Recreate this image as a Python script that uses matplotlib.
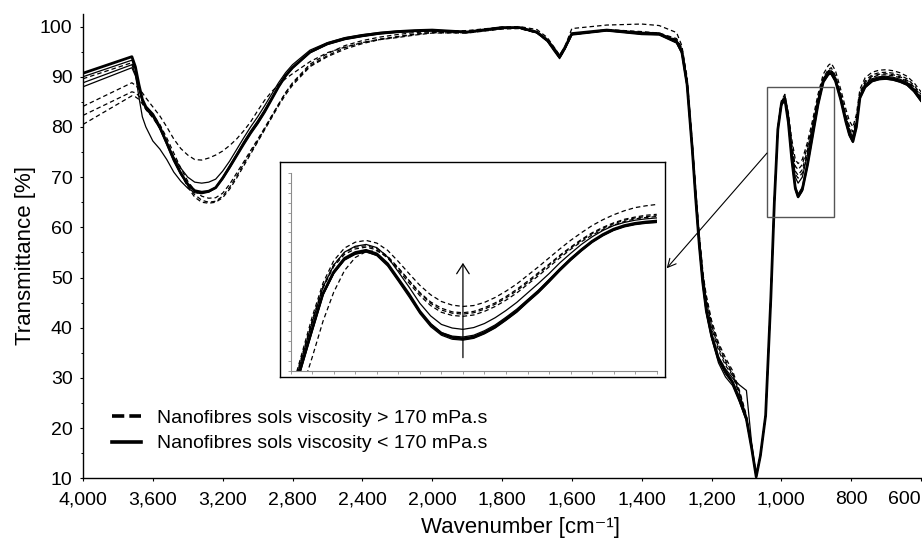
"""
FTIR transmittance spectra of nanofibre sols (two viscosity groups),
with a magnified inset of the 1030-860 cm-1 band.
"""
import numpy as np
import matplotlib
matplotlib.use("Agg")
import matplotlib.pyplot as plt
from matplotlib.lines import Line2D
from matplotlib.patches import Rectangle
from matplotlib.ticker import FixedLocator, FuncFormatter, NullLocator

plt.rcParams['font.family'] = ['Liberation Sans', 'DejaVu Sans']

# wavenumber grid of the main chart [cm-1]
wn = [4000, 3720, 3700, 3680, 3660, 3640, 3600, 3560, 3520, 3480,
      3440, 3400, 3360, 3320, 3280, 3240, 3200, 3160, 3120, 3080,
      3040, 3000, 2960, 2920, 2880, 2840, 2800, 2700, 2600, 2500,
      2400, 2300, 2200, 2100, 2000, 1900, 1800, 1750, 1700, 1670,
      1650, 1635, 1620, 1600, 1500, 1400, 1350, 1300, 1285, 1270,
      1255, 1245, 1235, 1225, 1215, 1200, 1180, 1160, 1140, 1120,
      1100, 1085, 1072, 1060, 1045, 1030, 1020, 1010, 1000, 990,
      980, 970, 960, 952, 940, 925, 910, 895, 880, 865,
      857, 845, 830, 815, 805, 795, 785, 775, 760, 740,
      720, 700, 680, 660, 640, 620, 600]

# viscosity > 170 mPa.s (dashed)
hi_1 = [89.6, 92.8, 91.0, 88.0, 85.5, 84.0, 82.5, 80.5, 77.8, 74.8,
        71.8, 69.2, 67.3, 66.2, 65.8, 65.9, 66.8, 68.6, 70.8, 73.0,
        75.3, 77.5, 79.8, 82.2, 84.5, 86.8, 88.6, 92.2, 94.2, 95.8,
        96.8, 97.5, 98.0, 98.5, 98.8, 98.8, 99.6, 99.7, 98.8, 97.2,
        95.3, 93.8, 95.6, 98.5, 99.4, 99.0, 98.7, 97.6, 95.8, 89.5,
        76.5, 67.0, 58.0, 51.0, 46.5, 41.5, 37.0, 34.0, 31.5, 27.5,
        22.5, 16.5, 10.5, 14.5, 22.5, 46.0, 65.5, 79.8, 85.0, 86.3,
        83.0, 77.5, 73.5, 72.7, 73.5, 77.0, 81.5, 86.5, 90.5, 92.3,
        92.7, 91.2, 87.5, 83.5, 81.2, 80.0, 82.5, 87.5, 89.8, 90.9,
        91.3, 91.4, 91.2, 90.8, 90.1, 88.8, 87.0]
hi_2 = [82.3, 87.0, 86.8, 86.2, 85.2, 83.8, 82.0, 80.0, 77.2, 74.0,
        71.0, 68.3, 66.5, 65.4, 65.0, 65.2, 66.2, 68.0, 70.2, 72.6,
        74.9, 77.2, 79.6, 82.0, 84.5, 86.8, 88.8, 92.5, 94.6, 96.2,
        97.2, 97.9, 98.4, 98.8, 99.0, 99.2, 99.9, 100.0, 99.4, 97.8,
        95.8, 94.3, 96.0, 99.6, 100.3, 100.5, 100.2, 98.8, 96.2, 90.0,
        77.0, 67.5, 58.5, 51.5, 45.0, 40.0, 35.5, 32.5, 30.5, 26.8,
        22.2, 16.5, 10.5, 14.5, 22.5, 46.0, 65.5, 79.8, 85.2, 86.5,
        82.6, 76.5, 72.2, 71.5, 72.5, 76.2, 80.8, 85.8, 89.8, 91.5,
        91.8, 90.2, 86.6, 82.5, 80.2, 79.0, 81.6, 86.8, 89.2, 90.4,
        90.8, 90.9, 90.7, 90.3, 89.6, 88.3, 86.5]
hi_3 = [84.1, 88.8, 88.3, 87.6, 86.8, 85.8, 84.0, 82.2, 80.0, 77.6,
        75.7, 74.4, 73.5, 73.4, 73.8, 74.4, 75.2, 76.3, 77.6, 79.2,
        81.0, 83.2, 85.3, 87.0, 88.4, 89.6, 90.6, 93.0, 94.8, 95.9,
        96.8, 97.4, 97.8, 98.3, 98.7, 98.8, 99.6, 99.7, 98.8, 97.2,
        95.2, 93.8, 95.6, 98.5, 99.3, 98.8, 98.6, 97.4, 95.5, 89.2,
        76.3, 66.8, 57.8, 50.8, 46.0, 41.0, 36.5, 33.5, 31.0, 27.0,
        22.0, 16.5, 10.5, 14.5, 22.5, 46.0, 65.2, 79.6, 84.8, 86.0,
        82.2, 76.0, 71.2, 70.4, 71.5, 75.5, 80.3, 85.5, 89.6, 91.2,
        91.5, 89.9, 86.3, 82.0, 79.6, 78.4, 81.2, 86.5, 88.9, 90.1,
        90.5, 90.6, 90.4, 90.0, 89.3, 88.0, 86.2]
hi_4 = [80.5, 86.2, 86.0, 85.5, 84.6, 83.5, 81.8, 79.8, 77.0, 73.8,
        70.8, 68.0, 66.0, 65.0, 64.8, 65.0, 65.9, 67.6, 69.8, 72.2,
        74.6, 77.0, 79.4, 81.8, 84.2, 86.4, 88.3, 92.0, 94.0, 95.5,
        96.6, 97.4, 97.9, 98.4, 98.8, 98.7, 99.5, 99.6, 98.7, 97.1,
        95.2, 93.7, 95.5, 98.4, 99.2, 98.7, 98.5, 97.3, 95.5, 89.0,
        76.2, 66.8, 57.8, 50.8, 45.5, 40.5, 36.0, 33.0, 30.8, 27.2,
        22.3, 16.5, 10.5, 14.5, 22.5, 46.0, 65.0, 79.5, 84.6, 85.8,
        81.8, 75.2, 70.6, 69.8, 70.8, 74.8, 79.8, 85.2, 89.4, 91.0,
        91.3, 89.7, 86.0, 81.8, 79.3, 78.1, 80.9, 86.3, 88.7, 89.9,
        90.3, 90.4, 90.2, 89.8, 89.1, 87.8, 86.0]

# viscosity < 170 mPa.s (solid); lo_1 is the heavy line
lo_1 = [90.7, 94.0, 92.0, 88.5, 85.5, 84.0, 82.5, 80.0, 76.8, 73.5,
        70.8, 68.6, 67.3, 67.0, 67.2, 67.9, 69.8, 72.0, 74.3, 76.6,
        78.8, 80.8, 83.0, 85.5, 88.0, 90.2, 91.8, 94.9, 96.6, 97.6,
        98.2, 98.7, 99.0, 99.2, 99.3, 98.9, 99.8, 99.8, 98.9, 97.3,
        95.5, 94.0, 95.8, 98.6, 99.3, 98.7, 98.6, 97.0, 95.0, 88.5,
        75.5, 65.5, 56.5, 49.0, 43.5, 38.5, 33.8, 31.3, 29.2, 25.8,
        21.8, 16.0, 10.3, 14.5, 22.5, 46.0, 65.0, 79.5, 84.5, 85.6,
        81.0, 73.5, 67.8, 66.1, 67.5, 72.5, 78.5, 84.5, 89.0, 90.6,
        90.7, 89.2, 85.5, 81.0, 78.5, 77.1, 80.0, 85.8, 88.0, 89.2,
        89.6, 89.7, 89.5, 89.1, 88.5, 87.2, 85.3]
lo_2 = [90.0, 93.3, 91.5, 88.0, 85.2, 83.8, 82.2, 79.8, 76.8, 74.0,
        71.8, 70.0, 69.0, 68.8, 69.0, 69.6, 71.2, 73.2, 75.5, 77.8,
        80.0, 82.0, 84.2, 86.5, 88.8, 90.8, 92.4, 95.3, 96.8, 97.8,
        98.4, 98.8, 99.1, 99.2, 99.3, 99.0, 99.8, 99.8, 98.9, 97.2,
        95.4, 94.2, 95.8, 98.5, 99.2, 98.8, 98.5, 97.2, 95.3, 89.0,
        76.0, 66.0, 57.0, 49.5, 44.0, 39.0, 34.2, 31.8, 30.0, 28.6,
        27.5, 17.0, 10.5, 14.5, 22.5, 46.0, 65.0, 79.5, 84.8, 86.0,
        82.0, 75.0, 70.0, 68.8, 70.0, 74.5, 80.0, 85.5, 89.5, 91.0,
        91.2, 89.8, 86.0, 81.8, 79.3, 78.0, 80.8, 86.2, 88.5, 89.6,
        90.0, 90.1, 89.9, 89.5, 88.9, 87.6, 85.8]
lo_3 = [88.8, 92.4, 90.5, 86.0, 82.0, 80.0, 77.2, 75.6, 73.5, 71.0,
        69.2, 67.8, 66.9, 66.7, 67.0, 67.8, 69.6, 71.8, 74.2, 76.5,
        78.7, 80.6, 82.9, 85.4, 87.9, 90.0, 91.7, 94.8, 96.5, 97.5,
        98.1, 98.6, 98.9, 99.1, 99.2, 98.8, 99.7, 99.7, 98.8, 97.2,
        95.3, 93.8, 95.6, 98.4, 99.2, 98.5, 98.4, 96.8, 94.8, 88.2,
        75.2, 65.0, 56.0, 48.5, 43.0, 38.0, 33.0, 30.2, 28.5, 25.2,
        21.5, 16.0, 10.3, 14.5, 22.5, 46.0, 65.0, 79.3, 84.2, 85.4,
        81.0, 73.8, 68.2, 66.6, 68.0, 73.0, 79.0, 84.8, 89.2, 90.8,
        91.0, 89.5, 85.8, 81.4, 78.9, 77.6, 80.5, 86.0, 88.2, 89.4,
        89.8, 89.9, 89.7, 89.3, 88.7, 87.4, 85.6]
lo_4 = [88.0, 91.8, 90.2, 87.5, 85.0, 83.5, 82.0, 79.6, 76.5, 73.2,
        70.5, 68.4, 67.2, 66.9, 67.2, 68.0, 70.0, 72.3, 74.6, 77.0,
        79.2, 81.2, 83.4, 85.8, 88.2, 90.3, 91.9, 94.8, 96.4, 97.4,
        98.0, 98.5, 98.8, 99.0, 99.1, 98.8, 99.6, 99.7, 98.7, 97.0,
        95.0, 93.6, 95.4, 98.3, 99.1, 98.4, 98.3, 96.7, 94.6, 88.0,
        75.0, 65.2, 56.2, 48.8, 43.2, 38.2, 33.5, 30.8, 29.0, 25.5,
        21.6, 15.8, 10.2, 14.5, 22.5, 46.0, 65.0, 79.5, 84.3, 85.5,
        80.8, 73.2, 67.5, 65.9, 67.2, 72.2, 78.2, 84.2, 88.8, 90.4,
        90.5, 89.0, 85.3, 80.8, 78.2, 76.9, 79.8, 85.6, 87.8, 89.0,
        89.4, 89.5, 89.3, 88.9, 88.3, 87.0, 85.1]

# inset (magnified band)
wn_in = [1030, 1025, 1020, 1015, 1010, 1005, 1000, 995, 990, 985,
         980, 975, 970, 965, 960, 955, 950, 945, 940, 935,
         930, 925, 920, 915, 910, 905, 900, 895, 890, 885,
         880, 875, 870, 865, 860]
hi_in_1 = [54.0, 62.5, 71.0, 78.5, 83.5, 86.3, 87.6, 88.0, 87.4, 85.8,
           83.3, 80.6, 78.0, 75.9, 74.4, 73.6, 73.3, 73.5, 74.2, 75.3,
           76.7, 78.3, 80.2, 82.1, 84.1, 86.1, 88.0, 89.7, 91.3, 92.6,
           93.7, 94.6, 95.3, 95.7, 96.0]
hi_in_2 = [53.5, 62.0, 70.2, 77.8, 82.6, 85.3, 86.5, 86.8, 86.2, 84.5,
           81.9, 79.1, 76.4, 74.3, 72.9, 72.1, 71.9, 72.2, 73.0, 74.1,
           75.5, 77.1, 78.9, 80.8, 82.7, 84.7, 86.5, 88.2, 89.7, 90.9,
           91.9, 92.7, 93.2, 93.6, 93.8]
hi_in_3 = [53.2, 61.6, 69.8, 77.4, 82.2, 84.9, 86.1, 86.5, 85.9, 84.1,
           81.4, 78.5, 75.7, 73.5, 72.0, 71.3, 71.1, 71.4, 72.2, 73.3,
           74.7, 76.3, 78.2, 80.1, 82.1, 84.1, 86.0, 87.7, 89.2, 90.4,
           91.4, 92.2, 92.8, 93.1, 93.3]
hi_in_4 = [47.0, 54.5, 62.0, 70.0, 76.5, 81.3, 84.2, 85.5, 85.7, 84.3,
           81.8, 79.0, 76.2, 74.0, 72.5, 71.8, 71.6, 71.9, 72.7, 73.8,
           75.2, 76.8, 78.6, 80.5, 82.5, 84.5, 86.3, 88.0, 89.5, 90.7,
           91.7, 92.5, 93.0, 93.3, 93.5]
lo_in_1 = [52.0, 60.2, 68.3, 76.2, 81.0, 84.0, 85.3, 85.8, 85.0, 82.8,
           79.4, 76.0, 72.2, 69.3, 67.3, 66.4, 66.1, 66.5, 67.5, 68.8,
           70.5, 72.3, 74.5, 76.6, 79.0, 81.5, 83.8, 85.9, 87.8, 89.3,
           90.5, 91.3, 91.8, 92.1, 92.3]
lo_in_2 = [53.0, 61.5, 69.8, 77.6, 82.5, 85.4, 86.7, 87.1, 86.4, 84.3,
           81.0, 77.6, 74.0, 71.2, 69.3, 68.5, 68.2, 68.6, 69.5, 70.8,
           72.4, 74.2, 76.3, 78.4, 80.6, 83.0, 85.1, 87.1, 88.8, 90.2,
           91.3, 92.0, 92.5, 92.8, 93.0]
lo_in_3 = [51.5, 59.6, 67.8, 75.8, 80.6, 83.6, 84.9, 85.4, 84.7, 82.6,
           79.3, 75.9, 72.2, 69.4, 67.5, 66.7, 66.5, 66.9, 67.9, 69.2,
           70.9, 72.7, 74.8, 76.9, 79.3, 81.7, 84.0, 86.0, 87.8, 89.2,
           90.3, 91.1, 91.6, 91.9, 92.0]
lo_in_4 = [51.8, 59.9, 68.0, 75.9, 80.7, 83.7, 85.0, 85.5, 84.6, 82.3,
           78.9, 75.4, 71.7, 68.8, 66.9, 66.0, 65.8, 66.2, 67.2, 68.5,
           70.2, 72.0, 74.2, 76.3, 78.7, 81.2, 83.5, 85.6, 87.5, 89.0,
           90.2, 91.0, 91.5, 91.8, 92.0]

x_ticks = [4000, 3600, 3200, 2800, 2400, 2000, 1800, 1600, 1400, 1200, 1000, 800, 600]
labels = ['Nanofibres sols viscosity > 170 mPa.s', 'Nanofibres sols viscosity < 170 mPa.s']


# half scale below 2000 cm-1: every tick interval gets the same width
def fwd(w):
    w = np.asarray(w, dtype=float)
    return np.where(w <= 2000, (w - 600) / 200.0, 7 + (w - 2000) / 400.0)


def inv(p):
    p = np.asarray(p, dtype=float)
    return np.where(p <= 7, 600 + 200.0 * p, 2000 + 400.0 * (p - 7))


W, H = 922, 544
DASH = (0, (3.6, 2.4))

fig = plt.figure(figsize=(W / 100, H / 100), dpi=100)
ax = fig.add_axes([83 / W, 1 - 478.3 / H, 838 / W, 464.3 / H])

for ys in [hi_1, hi_2, hi_3, hi_4]:
    ax.plot(wn, ys, color='black', lw=0.9, ls=DASH)
for ys in [lo_2, lo_3, lo_4]:
    ax.plot(wn, ys, color='black', lw=0.9)
ax.plot(wn, lo_1, color='black', lw=2.0)

ax.set_xscale('function', functions=(fwd, inv))
ax.set_xlim(4000, 600)
ax.set_ylim(10, 102.5)
ax.xaxis.set_major_locator(FixedLocator(x_ticks))
ax.xaxis.set_minor_locator(NullLocator())
ax.xaxis.set_major_formatter(FuncFormatter(lambda v, p: f'{v:,.0f}'))
ax.set_yticks(np.arange(10, 101, 10))
ax.set_yticks(np.arange(15, 100, 10), minor=True)

for s in ['top', 'right']:
    ax.spines[s].set_visible(False)
for s in ['left', 'bottom']:
    ax.spines[s].set_linewidth(1.0)
ax.tick_params(axis='both', which='major', direction='out', length=2.5, width=0.8, labelsize=14)
ax.tick_params(axis='y', which='minor', direction='out', length=1.8, width=0.7)
ax.tick_params(axis='x', pad=7)
ax.tick_params(axis='y', pad=5)

ax.set_xlabel('Wavenumber [cm\u207b\u00b9]', fontsize=16)
ax.set_ylabel('Transmittance [%]', fontsize=16)
ax.xaxis.set_label_coords(0.522, -0.083)
ax.yaxis.set_label_coords(-0.056, 0.479)

# box around the magnified band
ax.add_patch(Rectangle((849, 62), 1041 - 849, 26, fill=False, edgecolor='#555555', lw=1.0, zorder=5))
ax.annotate('', xy=(666.7 / W, 1 - 268.3 / H), xycoords='figure fraction',
            xytext=(1041, 74.8), textcoords='data',
            arrowprops=dict(arrowstyle='->,head_length=0.6,head_width=0.3', color='black',
                            lw=0.8, shrinkA=0, shrinkB=0), zorder=6)

leg_handles = [Line2D([], [], color='black', lw=2.6, ls=(0, (3.4, 1.4))),
               Line2D([], [], color='black', lw=2.6)]
ax.legend(leg_handles, labels, loc='upper left', bbox_to_anchor=(0.0346, 0.1484),
          frameon=False, fontsize=14, handlelength=1.5, handletextpad=0.8,
          labelspacing=0.4, borderpad=0, borderaxespad=0)

# inset: outer frame + inner plot
frame = fig.add_axes([280 / W, 1 - 377 / H, 385 / W, 215 / H])
frame.set_xticks([])
frame.set_yticks([])
for s in frame.spines.values():
    s.set_linewidth(1.0)
    s.set_edgecolor('black')

iax = fig.add_axes([290.7 / W, 1 - 370.7 / H, 366 / W, 197.7 / H])
iax.patch.set_alpha(0)
for ys in [hi_in_1, hi_in_2, hi_in_3, hi_in_4]:
    iax.plot(wn_in, ys, color='black', lw=0.9, ls=DASH)
for ys in [lo_in_2, lo_in_3, lo_in_4]:
    iax.plot(wn_in, ys, color='black', lw=0.9)
iax.plot(wn_in, lo_in_1, color='black', lw=2.0)
iax.set_xlim(1030, 860)
iax.set_ylim(59, 103)
iax.set_xticks(np.arange(860, 1031, 10))
iax.set_yticks(np.linspace(59, 103, 21))
iax.set_xticklabels([])
iax.set_yticklabels([])
for s in ['top', 'right']:
    iax.spines[s].set_visible(False)
for s in ['left', 'bottom']:
    iax.spines[s].set_edgecolor('#8c8c8c')
    iax.spines[s].set_linewidth(0.8)
iax.tick_params(direction='out', length=2.2, width=0.6, color='#8c8c8c')
iax.annotate('', xy=(950, 83.0), xytext=(950, 61.9),
             arrowprops=dict(arrowstyle='->,head_length=0.7,head_width=0.45', color='black',
                             lw=0.9, shrinkA=0, shrinkB=0))

# last tick label (600) sits flush with the axis end
fig.canvas.draw()
for lab in ax.get_xticklabels():
    if lab.get_text() == '600':
        lab.set_horizontalalignment('right')

fig.savefig('out.png', dpi=100)
